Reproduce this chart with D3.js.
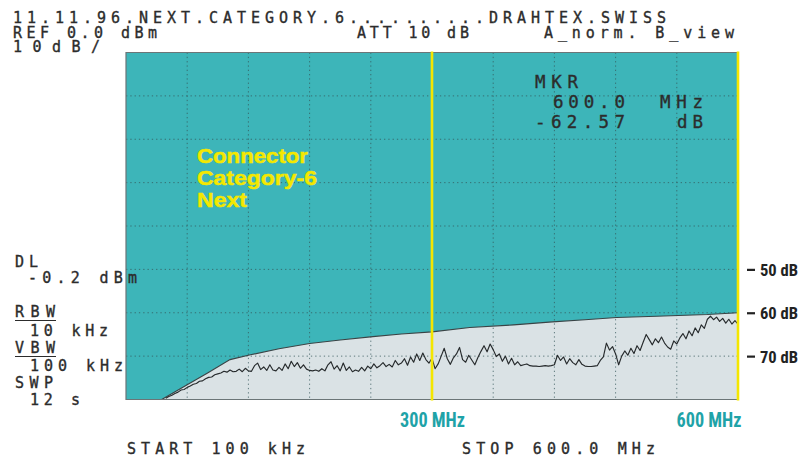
<!DOCTYPE html>
<html><head><meta charset="utf-8">
<script src="https://cdn.jsdelivr.net/npm/d3@7"></script>
<style>html,body{margin:0;padding:0;background:#fff;} svg{display:block}</style>
</head><body><svg id="c" width="812" height="459"></svg>
<script>
// ---- data ----
const gridMHz = [60,120,180,240,300,360,420,480,540];
const gridDb = [-10,-20,-30,-40,-50,-60,-70];
const markerMHz = [300, 600];
const markerLabels = ["300 MHz", "600 MHz"];
const dbTicks = [-50, -60, -70];
const limitLine = [[35,-80],[60,-76.6],[80,-73.9],[102,-70.8],[122,-69.7],[150,-68.3],[180,-67.1],[210,-66.3],[242,-65.5],[270,-64.9],[300,-64.4],[337,-63.4],[380,-62.8],[418,-62.1],[450,-61.6],[481,-61.1],[520,-60.8],[570,-60.4],[600,-60.0]];
const trace = [
[39,-79.7],[42,-79.3],[45,-79.0],[48,-78.6],[51,-78.3],[54,-77.8],[57,-77.7],[60,-77.2],[63,-76.9],[66,-76.5],[69,-76.3],[72,-75.8],[75,-75.7],[78,-75.2],[81,-74.9],[84,-74.8],[87,-74.3],[90,-74.1],[93,-73.9],
[96,-73.5],[99,-73.7],[102,-73.2],[105,-73.6],[108,-73.5],[111,-73.0],[114,-73.6],[117,-72.8],[120,-73.4],[123,-73.5],[126,-72.2],[129,-71.6],[132,-73.1],[135,-72.5],[138,-73.3],[141,-72.0],[144,-73.2],[147,-73.4],[150,-72.6],[153,-73.3],[156,-71.8],[159,-72.9],[162,-71.2],[165,-72.4],[168,-71.5],[171,-72.8],[174,-72.0],[177,-73.0],[180,-73.3],[183,-73.4],[186,-73.2],[189,-73.5],[192,-72.9],[195,-73.4],[198,-72.0],[201,-71.3],[204,-73.0],[207,-72.2],[210,-73.4],[213,-71.6],[216,-73.3],[219,-72.5],[222,-73.6],[225,-73.2],[228,-73.5],[231,-72.6],[234,-73.4],[237,-72.3],[240,-72.9],
[243,-71.8],[246,-72.7],[249,-72.2],[252,-71.5],[255,-72.4],[258,-71.9],[261,-72.5],[264,-71.0],[267,-72.0],[270,-71.6],[273,-70.6],[276,-72.1],[279,-70.2],[282,-71.4],[285,-69.5],[288,-71.0],[291,-69.3],[294,-70.8],[297,-71.6],[300,-70.5],
[303,-72.9],[306,-71.8],[309,-70.0],[312,-68.2],[315,-70.6],[318,-71.9],[321,-70.4],[324,-69.5],[327,-68.0],[330,-70.8],[333,-71.4],[336,-69.8],[339,-70.9],[342,-72.0],[345,-70.3],[348,-68.9],[351,-67.6],[354,-69.0],[357,-67.2],[360,-68.5],[363,-70.1],
[366,-69.5],[369,-71.2],[372,-70.0],[375,-71.8],[378,-70.5],[381,-72.0],[384,-71.3],[387,-72.2],[390,-72.0],[393,-71.8],[396,-72.2],[399,-72.3],[402,-72.3],[405,-72.4],[408,-72.3],[411,-72.2],[414,-72.3],[417,-72.2],[420,-72.0],
[423,-69.8],[426,-71.0],[429,-70.2],[432,-71.8],[435,-70.6],[438,-71.5],[441,-72.0],[444,-70.8],[447,-71.9],[450,-72.3],[453,-72.4],[456,-72.4],[459,-72.3],[462,-72.2],[465,-71.0],
[468,-70.2],[471,-67.0],[474,-68.6],[477,-67.8],[480,-69.5],[483,-72.0],[486,-70.0],[489,-68.8],[492,-69.8],[495,-68.2],[498,-69.4],[501,-67.6],[504,-68.7],
[507,-66.8],[510,-65.0],[513,-66.2],[516,-67.4],[519,-66.0],[522,-66.9],[525,-65.6],[528,-67.0],[531,-67.9],[534,-68.4],[537,-66.5],[540,-67.2],[543,-65.8],
[546,-64.8],[549,-66.0],[552,-64.2],[555,-65.3],[558,-63.5],[561,-64.6],[564,-62.8],[567,-63.6],[570,-61.5],[573,-60.8],[576,-61.6],
[579,-61.0],[582,-62.0],[585,-61.3],[588,-62.4],[591,-61.5],[594,-62.6],[597,-61.8],[600,-62.6]
];

// ---- drawing ----
const svg = d3.select("#c");
const x = d3.scaleLinear().domain([0,600]).range([126,738]);
const y = d3.scaleLinear().domain([-80,0]).range([399.5,52.5]);
const [X0,X1] = x.range(), [Y1,Y0] = y.range();

svg.append("defs").append("clipPath").attr("id","pc")
  .append("rect").attr("x",X0).attr("y",Y0).attr("width",X1-X0).attr("height",Y1-Y0);

svg.append("rect").attr("x",X0).attr("y",Y0).attr("width",X1-X0).attr("height",Y1-Y0).attr("fill","#3db5b9");

const plot = svg.append("g").attr("clip-path","url(#pc)");
plot.append("path").datum(limitLine)
  .attr("d", d3.area().x(d=>x(d[0])).y0(y(-80)).y1(d=>y(d[1])))
  .attr("fill","#dae2e5");

const gcol = "#35575a";
plot.selectAll("line.gv").data(gridMHz).join("line").attr("class","gv")
  .attr("x1",d=>x(d)).attr("x2",d=>x(d)).attr("y1",Y0).attr("y2",Y1)
  .attr("stroke",gcol).attr("stroke-width",1).attr("stroke-dasharray","1.3,3").attr("opacity",0.75);
plot.selectAll("line.gh").data(gridDb).join("line").attr("class","gh")
  .attr("x1",X0).attr("x2",X1).attr("y1",d=>y(d)).attr("y2",d=>y(d))
  .attr("stroke",gcol).attr("stroke-width",1).attr("stroke-dasharray","1.3,3").attr("opacity",0.75);

plot.append("path").datum(limitLine)
  .attr("d", d3.line().x(d=>x(d[0])).y(d=>y(d[1])))
  .attr("fill","none").attr("stroke","#3a4446").attr("stroke-width",1.1);

plot.append("path").datum(trace)
  .attr("d", d3.line().x(d=>x(d[0])).y(d=>y(d[1])))
  .attr("fill","none").attr("stroke","#262a2c").attr("stroke-width",1.15).attr("stroke-linejoin","round");

// border
svg.append("path").attr("d",`M${X1},${Y0}H${X0}V${Y1}H${X1}`).attr("fill","none").attr("stroke","#6b7577").attr("stroke-width",1.2);

// yellow markers
svg.selectAll("line.mk").data(markerMHz).join("line").attr("class","mk")
  .attr("x1",d=>x(d)).attr("x2",d=>x(d)).attr("y1",Y0-1).attr("y2",Y1+1)
  .attr("stroke","#f4e600").attr("stroke-width",2.6);

// mono texts
const mono = "'DejaVu Sans Mono', 'Liberation Mono', monospace";
function t(s, tx, ty, size, len, fill){
  const e = svg.append("text").attr("x",tx).attr("y",ty).text(s)
    .attr("font-family",mono).attr("font-size",size).attr("fill",fill||"#2c2c2c")
    .attr("stroke",fill||"#2c2c2c").attr("stroke-width",0.35);
  if(len) e.attr("textLength",len).attr("lengthAdjust","spacing");
  return e;
}
t("11.11.96.NEXT.CATEGORY.6..........DRAHTEX.SWISS", 13, 23, 15, 653);
t("REF 0.0 dBm", 13, 38, 15, 144);
t("ATT 10 dB", 357, 38, 15, 112);
t("A_norm. B_view", 544, 38, 15, 190);
t("10dB/", 13, 52, 15, 87);

t("DL", 15, 267, 15, 23);
t("-0.2 dBm", 28, 283, 15, 109);
t("RBW", 15, 317, 15, 40);
svg.append("line").attr("x1",15).attr("x2",56).attr("y1",320.5).attr("y2",320.5).attr("stroke","#2c2c2c").attr("stroke-width",1.2);
t("10 kHz", 30, 336, 15, 78);
t("VBW", 15, 353, 15, 40);
svg.append("line").attr("x1",15).attr("x2",56).attr("y1",356.5).attr("y2",356.5).attr("stroke","#2c2c2c").attr("stroke-width",1.2);
t("100 kHz", 30, 371, 15, 93);
t("SWP", 15, 388, 15, 38);
t("12 s", 30, 405, 15, 50);

t("MKR", 535, 88, 17.5, 43);
t("600.0", 553, 108, 17.5, 72);
t("MHz", 660, 108, 17.5, 43);
t("-62.57", 535, 128, 17.5, 90);
t("dB", 677, 128, 17.5, 26);

t("START 100 kHz", 127, 454, 15, 178);
t("STOP 600.0 MHz", 462, 454, 15, 193);

// Connector label
const sans = "'Liberation Sans', Arial, 'Noto Sans', sans-serif";
[["Connector",163,111],["Category-6",185,120],["Next",207,50]].forEach(([s,ty,len])=>{
  svg.append("text").attr("x",197).attr("y",ty).text(s)
    .attr("font-family",sans).attr("font-weight","bold").attr("font-size",21)
    .attr("fill","#f4e800").attr("stroke","#f4e800").attr("stroke-width",0.5)
    .attr("textLength",len).attr("lengthAdjust","spacingAndGlyphs");
});

// right dB axis
const cond = "'Liberation Sans Narrow', 'Roboto Condensed', 'Liberation Sans', Arial, sans-serif";
const ax = svg.append("g").attr("transform",`translate(747,0)`)
  .call(d3.axisRight(y).tickValues(dbTicks).tickSize(8).tickPadding(5).tickFormat(d=>`${-d} dB`));
ax.select(".domain").remove();
ax.selectAll(".tick line").attr("stroke","#222").attr("stroke-width",2.2);
ax.selectAll(".tick text").attr("font-family",cond).attr("font-weight","bold").attr("font-size",16.5)
  .attr("fill","#222").attr("textLength",38).attr("lengthAdjust","spacingAndGlyphs").attr("dy","0.36em");

// bottom MHz labels
const bx = svg.append("g").attr("transform",`translate(0,427)`)
  .call(d3.axisBottom(x).tickValues(markerMHz).tickSize(0).tickPadding(0).tickFormat((d,i)=>markerLabels[i]));
bx.select(".domain").remove();
bx.selectAll(".tick text").attr("dy",0).attr("font-family",cond).attr("font-weight","bold").attr("font-size",20)
  .attr("fill","#1fa3a8").attr("textLength",65).attr("lengthAdjust","spacingAndGlyphs")
  .attr("text-anchor",(d,i)=>i===markerMHz.length-1?"end":"middle")
  .attr("x",(d,i)=>i===markerMHz.length-1?3:0);
</script></body></html>
